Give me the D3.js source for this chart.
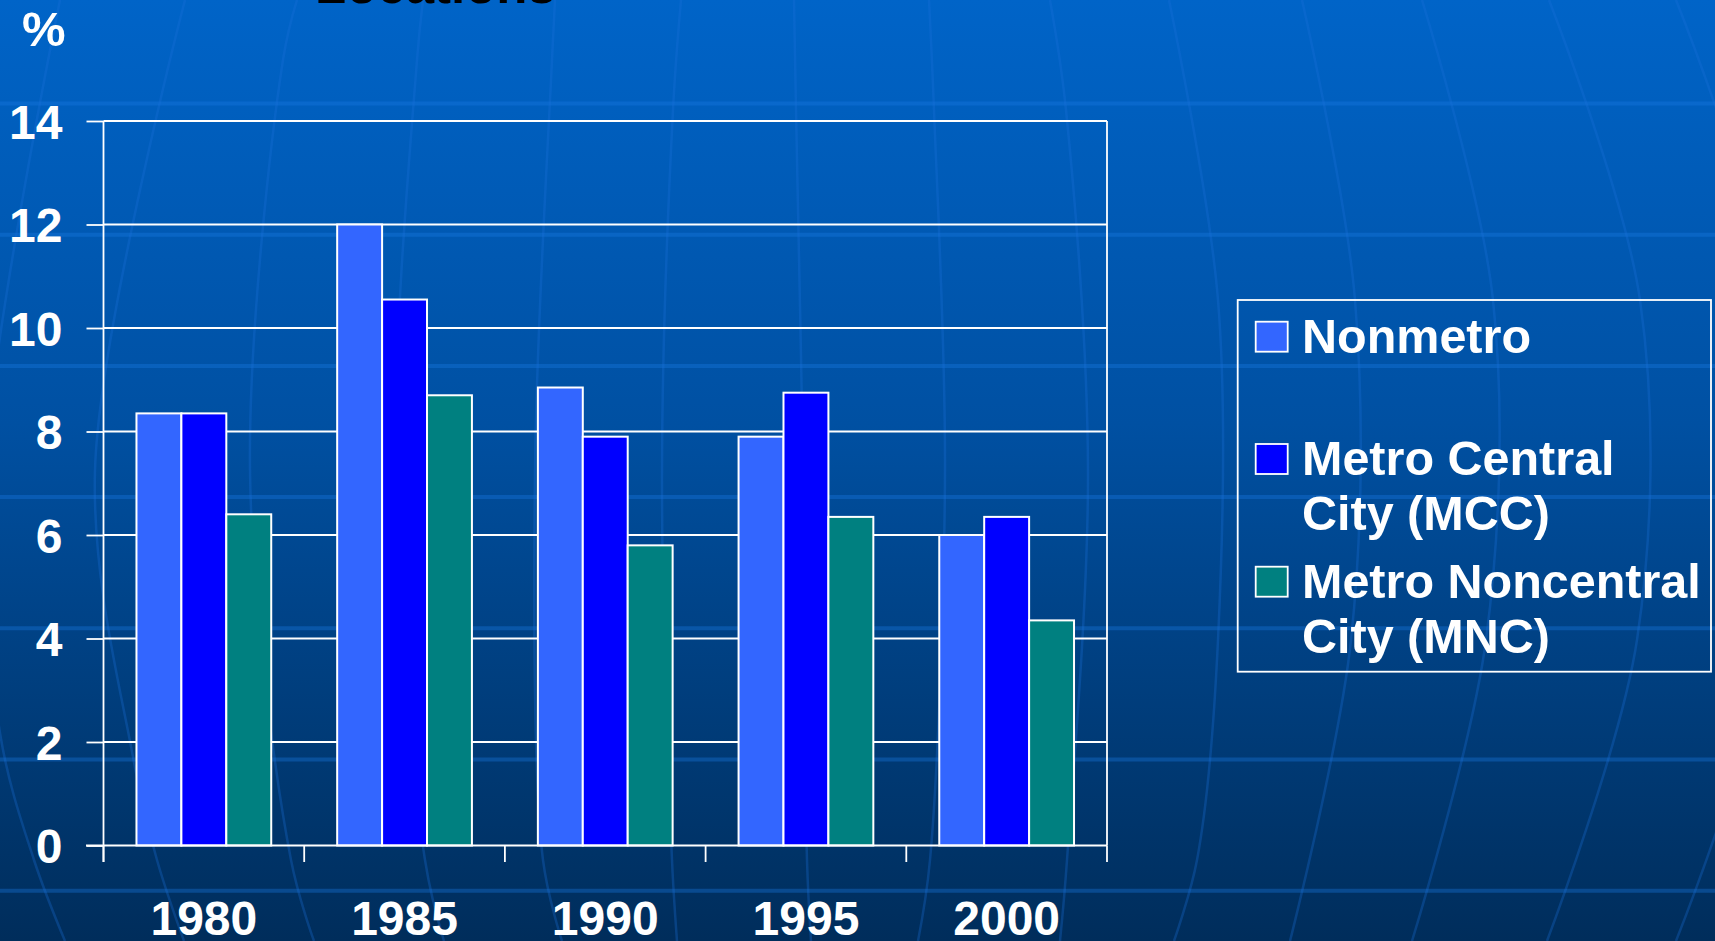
<!DOCTYPE html>
<html>
<head>
<meta charset="utf-8">
<script src="https://cdn.jsdelivr.net/npm/d3@7/dist/d3.min.js"></script>
<style>
  html, body { margin: 0; padding: 0; background: #003060; }
  svg { display: block; }
  text { font-family: "Liberation Sans", Arial, sans-serif; font-weight: bold; }
</style>
</head>
<body>
<svg id="chart" width="1715" height="941"></svg>
<script>
// ---- data ----
const years = ["1980", "1985", "1990", "1995", "2000"];
const seriesNames = ["Nonmetro", "Metro Central City (MCC)", "Metro Noncentral City (MNC)"];
const nonmetro = [8.35, 12.0, 8.85, 7.9, 6.0];
const mcc = [8.35, 10.55, 7.9, 8.75, 6.35];
const mnc = [6.4, 8.7, 5.8, 6.35, 4.35];
const yTicks = [0, 2, 4, 6, 8, 10, 12, 14];
const legendLines = [["Nonmetro"], ["Metro Central", "City (MCC)"], ["Metro Noncentral", "City (MNC)"]];
const seriesColors = ["#3366FF", "#0000FF", "#008080"];

const values = [nonmetro, mcc, mnc];
const W = 1715, H = 941;
const svg = d3.select("#chart");

// ---- background ----
const defs = svg.append("defs");
const grad = defs.append("linearGradient").attr("id", "bg").attr("x1", 0).attr("y1", 0).attr("x2", 0).attr("y2", 1);
grad.append("stop").attr("offset", "0%").attr("stop-color", "#0064c8");
grad.append("stop").attr("offset", "45%").attr("stop-color", "#0050a2");
grad.append("stop").attr("offset", "100%").attr("stop-color", "#002d5b");
svg.append("rect").attr("width", W).attr("height", H).attr("fill", "url(#bg)");

// decorative horizontal bands
const bandYs = d3.range(7).map(i => 103.5 + i * 131.2);
svg.append("g").selectAll("line").data(bandYs).join("line")
  .attr("x1", 0).attr("x2", W).attr("y1", d => d).attr("y2", d => d)
  .attr("stroke", "#1a7ae6").attr("stroke-opacity", 0.35).attr("stroke-width", 4);

// decorative meridian curves
const meridians = [
  [[60, 0], [-15, 470], [0, 733], [34, 860], [65, 941]],
  [[185, 0], [95, 470], [133, 757], [157, 860], [184, 941]],
  [[297, 0], [283, 60], [250, 470], [291, 860], [314, 941]],
  [[423, 0], [417, 60], [395, 470], [425, 860], [444, 941]],
  [[555, 0], [552, 60], [535, 470], [543, 860], [562, 941]],
  [[681, 0], [673, 110], [662, 470], [672, 860], [677, 941]],
  [[794, 0], [796, 110], [803, 470], [807, 860], [811, 941]],
  [[929, 0], [934, 110], [945, 470], [930, 860], [918, 941]],
  [[1050, 0], [1066, 110], [1088, 470], [1067, 860], [1060, 941]],
  [[1169, 0], [1218, 300], [1218, 640], [1197, 860], [1174, 941]],
  [[1302, 0], [1355, 300], [1351, 640], [1290, 941]],
  [[1422, 0], [1493, 300], [1486, 640], [1412, 941]],
  [[1549, 0], [1640, 300], [1637, 640], [1547, 941]],
  [[1676, 0], [1770, 300], [1770, 640], [1676, 941]]
];
const lineGen = d3.line().curve(d3.curveCatmullRom);
svg.append("g").selectAll("path").data(meridians).join("path")
  .attr("d", d => lineGen(d)).attr("fill", "none")
  .attr("stroke", "#1a72dc").attr("stroke-opacity", 0.3).attr("stroke-width", 2.5);

// cut-off title
svg.append("text").attr("x", 315).attr("y", 2.5).attr("fill", "#000")
  .attr("font-size", 51).text("Locations");

// ---- scales ----
const x = d3.scaleBand().domain(years).range([103.5, 1107]).padding(0);
const xs = d3.scaleBand().domain(d3.range(3)).range([0, x.bandwidth()]).paddingInner(0).paddingOuter(0.734);
const y = d3.scaleLinear().domain([0, 14]).range([845.5, 121]);

// ---- gridlines ----
svg.append("g").selectAll("line").data(yTicks.filter(t => t > 0)).join("line")
  .attr("x1", 103.5).attr("x2", 1107).attr("y1", d => y(d)).attr("y2", d => y(d))
  .attr("stroke", "#fff").attr("stroke-width", 1.8);
// right border
svg.append("line").attr("x1", 1107).attr("x2", 1107).attr("y1", y(14)).attr("y2", y(0))
  .attr("stroke", "#fff").attr("stroke-width", 1.8);

// ---- bars ----
const bars = svg.append("g");
years.forEach((yr, i) => {
  values.forEach((arr, s) => {
    bars.append("rect")
      .attr("x", x(yr) + xs(s))
      .attr("y", y(arr[i]))
      .attr("width", xs.bandwidth())
      .attr("height", y(0) - y(arr[i]))
      .attr("fill", seriesColors[s])
      .attr("stroke", "#fff").attr("stroke-width", 2);
  });
});

// ---- y axis ----
const yAxis = svg.append("g").attr("transform", "translate(103.5,0)")
  .call(d3.axisLeft(y).tickValues(yTicks).tickSize(17).tickPadding(24).tickFormat(d3.format("d")));
yAxis.select(".domain").remove();
yAxis.selectAll(".tick line").attr("stroke", "#fff").attr("stroke-width", 1.8);
yAxis.selectAll(".tick text").attr("fill", "#fff").attr("font-size", 48)
  .attr("font-family", "Liberation Sans, Arial, sans-serif").attr("font-weight", "bold").attr("dy", "0.36em");
svg.append("line").attr("x1", 103.5).attr("x2", 103.5).attr("y1", y(14)).attr("y2", y(0) + 16.5)
  .attr("stroke", "#fff").attr("stroke-width", 1.8);

// ---- x axis ----
svg.append("line").attr("x1", 86).attr("x2", 1107).attr("y1", y(0)).attr("y2", y(0))
  .attr("stroke", "#fff").attr("stroke-width", 2);
const boundaries = years.map(d => x(d)).concat([x(years[years.length - 1]) + x.bandwidth()]);
svg.append("g").selectAll("line").data(boundaries).join("line")
  .attr("x1", d => d).attr("x2", d => d).attr("y1", y(0)).attr("y2", y(0) + 16.5)
  .attr("stroke", "#fff").attr("stroke-width", 1.8);
const xAxis = svg.append("g").attr("transform", `translate(0,${y(0)})`)
  .call(d3.axisBottom(x).tickSize(0).tickPadding(0));
xAxis.select(".domain").remove();
xAxis.selectAll(".tick text").attr("fill", "#fff").attr("font-size", 48)
  .attr("font-family", "Liberation Sans, Arial, sans-serif").attr("font-weight", "bold")
  .attr("y", 89.5).attr("dy", 0);

// unit label
svg.append("text").attr("x", 22).attr("y", 46).attr("fill", "#fff").attr("font-size", 49).text("%");

// ---- legend ----
svg.append("rect").attr("x", 1237.7).attr("y", 300).attr("width", 473.3).attr("height", 371.7)
  .attr("fill", "none").attr("stroke", "#fff").attr("stroke-width", 1.8);
const swatchY = [321.7, 444, 566.7];
const baseY = [352.7, 475, 597.7];
const lg = svg.append("g");
seriesNames.forEach((name, s) => {
  lg.append("rect").attr("x", 1255.7).attr("y", swatchY[s]).attr("width", 32).attr("height", 30)
    .attr("fill", seriesColors[s]).attr("stroke", "#fff").attr("stroke-width", 1.8);
  legendLines[s].forEach((ln, j) => {
    lg.append("text").attr("x", 1302).attr("y", baseY[s] + j * 55).attr("fill", "#fff")
      .attr("font-size", 48.5).text(ln);
  });
});
</script>
</body>
</html>
